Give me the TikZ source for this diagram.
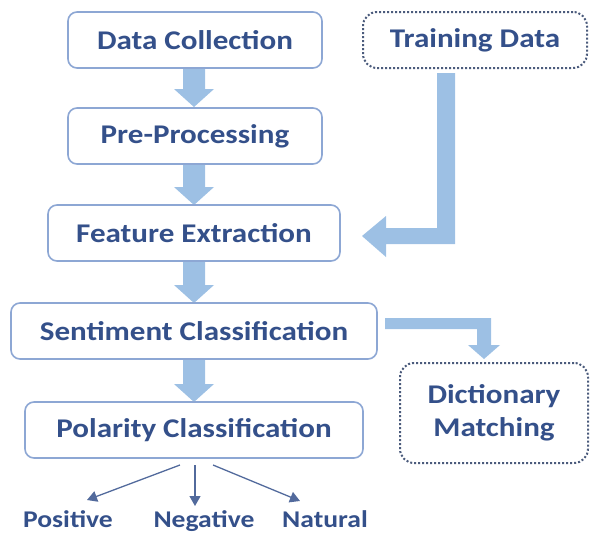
\documentclass[tikz,border=0pt]{standalone}
\usepackage{fontspec}
\setmainfont{Carlito}[FakeStretch=1.15]
\definecolor{boxline}{HTML}{8DA7D4}
\definecolor{txtblue}{HTML}{34508A}
\definecolor{arrowfill}{HTML}{9DC0E4}
\definecolor{dotline}{HTML}{4B5B7C}
\tikzset{
  stage/.style={draw=boxline, line width=1.6pt, rounded corners=9pt, fill=white,
    font=\fontsize{27}{29}\selectfont\bfseries, text=txtblue, inner sep=0pt},
  dotbox/.style={draw=dotline, line width=2pt, dotted, rounded corners=14pt, fill=white,
    font=\fontsize{27}{33}\selectfont\bfseries, text=txtblue, inner sep=0pt, align=center},
  outcome/.style={font=\fontsize{24}{26}\selectfont\bfseries, text=txtblue, inner sep=0pt},
  blockarrow/.style={fill=arrowfill, draw=none},
  thinarrow/.style={draw=txtblue!85!white, line width=1.3pt, -{Triangle[length=10pt,width=11pt]}}
}
\usetikzlibrary{arrows.meta}
\begin{document}
\begin{tikzpicture}[x=1pt,y=-1pt]
\useasboundingbox (0,0) rectangle (590,533);
% block arrows sit behind the boxes
\foreach \ya/\yb in {66/107, 165/205, 262/303, 360/402}{
  \fill[blockarrow] (183,\ya) -- (205,\ya) -- (205,\yb-18) -- (214,\yb-18)
    -- (194,\yb) -- (174,\yb-18) -- (183,\yb-18) -- cycle;
}
% pipeline stages
\node[stage, minimum width=254pt, minimum height=56pt] (dc) at (195,40) {Data Collection};
\node[stage, minimum width=254pt, minimum height=56pt] (pp) at (195,136) {Pre-Processing};
\node[stage, minimum width=292pt, minimum height=56pt] (fe) at (194,233) {Feature Extraction};
\node[stage, minimum width=366pt, minimum height=56pt] (sc) at (194,331) {Sentiment Classification};
\node[stage, minimum width=338pt, minimum height=56pt] (pc) at (194,430) {Polarity Classification};
% side inputs
\node[dotbox, minimum width=224pt, minimum height=56pt] (td) at (475,40) {Training Data};
\node[dotbox, minimum width=188pt, minimum height=100pt] (dm) at (494,413) {Dictionary\\Matching};
% training data feeds feature extraction
\fill[blockarrow] (437,73) -- (455,73) -- (455,244) -- (386,244) -- (386,257)
  -- (362,236) -- (386,216) -- (386,228) -- (437,228) -- cycle;
% sentiment classification to dictionary matching
\fill[blockarrow] (385,318) -- (491,318) -- (491,345) -- (500,345) -- (484,359)
  -- (468,345) -- (477,345) -- (477,329) -- (385,329) -- cycle;
% polarity outcomes
\node[outcome, anchor=base] (pos) at (68,527) {Positive};
\node[outcome, anchor=base] (neg) at (204,527) {Negative};
\node[outcome, anchor=base] (nat) at (325,527) {Natural};
\coordinate (p1) at (180,465);
\coordinate (p2) at (195,465);
\coordinate (p3) at (213,465);
\draw[thinarrow] (p1) -- (87,500);
\draw[thinarrow] (p2) -- (195,506);
\draw[thinarrow] (p3) -- (300,501);
\end{tikzpicture}
\end{document}
